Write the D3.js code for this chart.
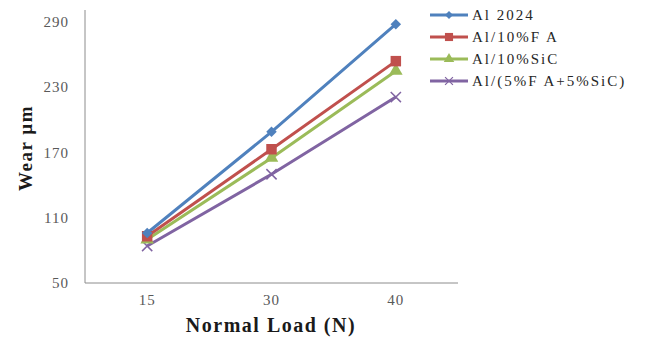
<!DOCTYPE html>
<html>
<head>
<meta charset="utf-8">
<script src="https://cdn.jsdelivr.net/npm/d3@7"></script>
<style>
  body { margin: 0; background: #fff; }
  text { font-family: "Liberation Serif", "Times New Roman", serif; }
</style>
</head>
<body>
<svg id="svg" width="653" height="339"></svg>
<script>
(function() {

    const loads = ['15', '30', '40']
    const yTicks = [50, 110, 170, 230, 290]
    const seriesNames = ['Al 2024', 'Al/10%F A', 'Al/10%SiC', 'Al/(5%F A+5%SiC)']
    const al2024 = [96, 189, 288]
    const alFA = [93, 173, 254]
    const alSiC = [90, 165, 245]
    const alHybrid = [84, 150, 221]

    const colors = ['#4F81BD', '#C0504D', '#9BBB59', '#8064A2']
    const symbols = [d3.symbolDiamond2, d3.symbolSquare, d3.symbolTriangle, d3.symbolX]
    const symSize = [70, 110, 80, 70]

    const series = [al2024, alFA, alSiC, alHybrid].map((vals, i) => ({
        name: seriesNames[i], values: vals, color: colors[i], symbol: symbols[i], size: symSize[i]
    }))

    const svg = d3.select('#svg')
    const left = 85, right = 458, top = 10, bottom = 283

    const x = d3.scalePoint().domain(loads).range([left, right]).padding(0.5)
    const y = d3.scaleLinear().domain([50, 290]).range([bottom, 22])

    // axes lines
    svg.append('line')
        .attr('x1', left).attr('x2', left)
        .attr('y1', top).attr('y2', bottom)
        .style('stroke', '#8c8c8c').style('stroke-width', 1)
    svg.append('line')
        .attr('x1', left).attr('x2', right)
        .attr('y1', bottom).attr('y2', bottom)
        .style('stroke', '#8c8c8c').style('stroke-width', 1)

    // y tick labels
    svg.selectAll('.ytick')
        .data(yTicks)
        .enter()
        .append('text')
            .attr('x', 69)
            .attr('y', d => y(d) + 5)
            .attr('text-anchor', 'end')
            .style('font-size', '15px')
            .style('letter-spacing', '1px')
            .style('fill', '#595959')
            .text(d => d)

    // x tick labels
    svg.selectAll('.xtick')
        .data(loads)
        .enter()
        .append('text')
            .attr('x', d => x(d))
            .attr('y', 305)
            .attr('text-anchor', 'middle')
            .style('font-size', '15px')
            .style('letter-spacing', '1px')
            .style('fill', '#595959')
            .text(d => d)

    // axis titles
    svg.append('text')
        .attr('transform', 'translate(32,148) rotate(-90)')
        .attr('text-anchor', 'middle')
        .style('font-size', '19px')
        .style('font-weight', 'bold')
        .style('letter-spacing', '1.5px')
        .style('fill', '#1a1a1a')
        .text('Wear µm')

    svg.append('text')
        .attr('x', 271)
        .attr('y', 332)
        .attr('text-anchor', 'middle')
        .style('font-size', '20px')
        .style('font-weight', 'bold')
        .style('letter-spacing', '1.5px')
        .style('fill', '#1a1a1a')
        .text('Normal Load (N)')

    // lines
    const line = d3.line()
        .x((d, i) => x(loads[i]))
        .y(d => y(d))

    series.slice().reverse().forEach(s => {
        svg.append('path')
            .datum(s.values)
            .attr('d', line)
            .style('fill', 'none')
            .style('stroke', s.color)
            .style('stroke-width', 3)
    })

    series.slice().reverse().forEach(s => {
        svg.selectAll(null)
            .data(s.values)
            .enter()
            .append('path')
                .attr('transform', (d, i) => `translate(${x(loads[i])},${y(d)})`)
                .attr('d', d3.symbol().type(s.symbol).size(s.size))
                .style('fill', s.symbol === d3.symbolX ? 'none' : s.color)
                .style('stroke', s.color)
                .style('stroke-width', s.symbol === d3.symbolX ? 1.5 : 0)
    })

    // legend
    series.forEach((s, i) => {
        const ly = 15 + i * 22
        svg.append('line')
            .attr('x1', 430).attr('x2', 468)
            .attr('y1', ly).attr('y2', ly)
            .style('stroke', s.color)
            .style('stroke-width', 3)
        svg.append('path')
            .attr('transform', `translate(449,${ly})`)
            .attr('d', d3.symbol().type(s.symbol).size(s.size * 0.6))
            .style('fill', s.symbol === d3.symbolX ? 'none' : s.color)
            .style('stroke', s.color)
            .style('stroke-width', s.symbol === d3.symbolX ? 1.2 : 0)
        svg.append('text')
            .attr('x', 472)
            .attr('y', ly + 5)
            .style('font-size', '15px')
            .style('letter-spacing', '2px')
            .style('fill', '#262626')
            .text(s.name)
    })

})();
</script>
</body>
</html>
